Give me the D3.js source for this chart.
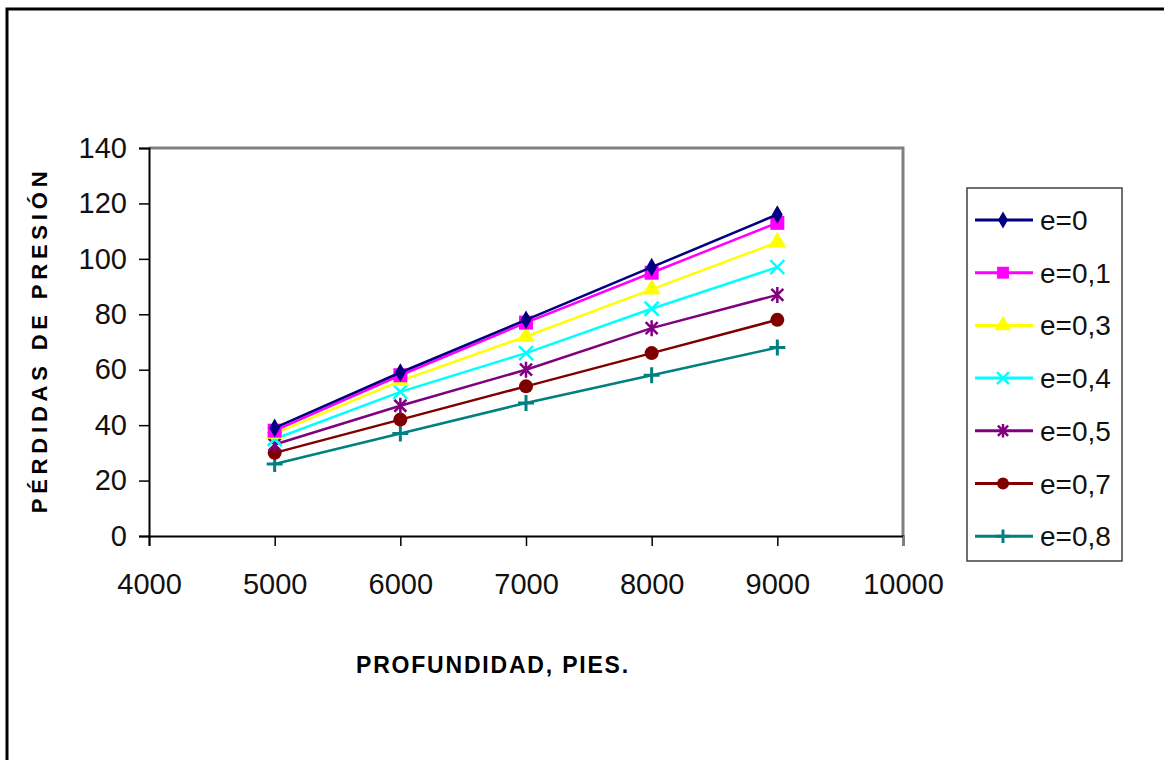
<!DOCTYPE html>
<html>
<head>
<meta charset="utf-8">
<script src="https://cdn.jsdelivr.net/npm/d3@7"></script>
<style>
  html, body { margin: 0; padding: 0; background: #fff; }
  svg { display: block; }
</style>
</head>
<body>
<svg id="chart" width="1164" height="760"></svg>
<script>
// Depth (ft) on the x axis
const depths = [5000, 6000, 7000, 8000, 9000];

// Pressure losses for each e value
const e0  = [39, 59, 78, 97, 116];
const e01 = [38, 58, 77, 95, 113];
const e03 = [37, 56, 72, 89, 106];
const e04 = [35, 52, 66, 82, 97];
const e05 = [33, 47, 60, 75, 87];
const e07 = [30, 42, 54, 66, 78];
const e08 = [26, 37, 48, 58, 68];

const seriesNames = ["e=0", "e=0,1", "e=0,3", "e=0,4", "e=0,5", "e=0,7", "e=0,8"];
const seriesValues = [e0, e01, e03, e04, e05, e07, e08];
const seriesColors = ["#000080", "#FF00FF", "#FFFF00", "#00FFFF", "#800080", "#800000", "#008080"];
const seriesMarkers = ["diamond", "square", "triangle", "x", "star", "circle", "plus"];

const xTicks = [4000, 5000, 6000, 7000, 8000, 9000, 10000];
const yTicks = [0, 20, 40, 60, 80, 100, 120, 140];

const svg = d3.select("#chart");
const font = "'Liberation Sans', Arial, sans-serif";

// Outer frame
svg.append("rect")
  .attr("x", 7).attr("y", 9)
  .attr("width", 1200).attr("height", 800)
  .attr("fill", "none").attr("stroke", "#000").attr("stroke-width", 3);

const plot = { left: 149, top: 148, right: 903, bottom: 536 };

const x = d3.scaleLinear().domain([4000, 10000]).range([plot.left, plot.right]);
const y = d3.scaleLinear().domain([0, 140]).range([plot.bottom, plot.top]);

// Grey top/right border of the plot area
svg.append("path")
  .attr("d", `M${plot.left},${plot.top} H${plot.right} V${plot.bottom}`)
  .attr("fill", "none").attr("stroke", "#808080").attr("stroke-width", 3);

// Axes
const yAxis = svg.append("g")
  .attr("transform", `translate(${plot.left},0)`)
  .call(d3.axisLeft(y).tickValues(yTicks).tickSize(10).tickPadding(12).tickFormat(d3.format("d")));
const xAxis = svg.append("g")
  .attr("transform", `translate(0,${plot.bottom})`)
  .call(d3.axisBottom(x).tickValues(xTicks).tickSize(10).tickPadding(27).tickFormat(d3.format("d")));

[yAxis, xAxis].forEach(a => {
  a.select(".domain").attr("stroke", "#000").attr("stroke-width", 2);
  a.selectAll(".tick line").attr("stroke", "#000").attr("stroke-width", 1.5);
  a.selectAll(".tick text")
    .attr("font-family", font).attr("font-size", 29).attr("fill", "#111");
});
xAxis.select(".tick:last-of-type line").attr("stroke", "#808080");

// Axis titles
svg.append("text")
  .attr("transform", `translate(47,340) rotate(-90)`)
  .attr("text-anchor", "middle")
  .attr("font-family", font).attr("font-weight", "bold").attr("font-size", 22)
  .attr("letter-spacing", 4.8)
  .text("PÉRDIDAS DE PRESIÓN");

svg.append("text")
  .attr("x", 493).attr("y", 673)
  .attr("text-anchor", "middle")
  .attr("font-family", font).attr("font-weight", "bold").attr("font-size", 23)
  .attr("letter-spacing", 1.8)
  .text("PROFUNDIDAD, PIES.");

// Marker drawing
function drawMarker(g, type, color, cx, cy, s) {
  const sc = s || 1;
  switch (type) {
    case "diamond":
      g.append("path").attr("d", d3.symbol(d3.symbolDiamond, 100 * sc)())
        .attr("transform", `translate(${cx},${cy})`).attr("fill", color);
      break;
    case "square":
      g.append("rect").attr("x", cx - 7 * sc).attr("y", cy - 7 * sc)
        .attr("width", 14 * sc).attr("height", 14 * sc).attr("fill", color);
      break;
    case "triangle":
      g.append("path").attr("d", d3.symbol(d3.symbolTriangle, 140 * sc)())
        .attr("transform", `translate(${cx},${cy})`).attr("fill", color);
      break;
    case "x": {
      const r = 7 * sc;
      g.append("path").attr("d", `M${cx - r},${cy - r}L${cx + r},${cy + r}M${cx - r},${cy + r}L${cx + r},${cy - r}`)
        .attr("stroke", color).attr("stroke-width", 2.5).attr("fill", "none");
      break;
    }
    case "star": {
      const r = 8 * sc;
      const d = r * 0.75;
      g.append("path").attr("d",
        `M${cx},${cy - r}V${cy + r}M${cx - d},${cy - d}L${cx + d},${cy + d}M${cx - d},${cy + d}L${cx + d},${cy - d}`)
        .attr("stroke", color).attr("stroke-width", 2.5).attr("fill", "none");
      break;
    }
    case "circle":
      g.append("circle").attr("cx", cx).attr("cy", cy).attr("r", 7 * sc).attr("fill", color);
      break;
    case "plus": {
      const r = 8 * sc;
      g.append("path").attr("d", `M${cx - r},${cy}H${cx + r}M${cx},${cy - r}V${cy + r}`)
        .attr("stroke", color).attr("stroke-width", 3).attr("fill", "none");
      break;
    }
  }
}

// Series lines and markers
const line = d3.line().x((d, i) => x(depths[i])).y(d => y(d));
const layer = svg.append("g");
for (let k = seriesValues.length - 1; k >= 0; k--) {
  const g = layer.append("g");
  g.append("path").datum(seriesValues[k]).attr("d", line)
    .attr("fill", "none").attr("stroke", seriesColors[k]).attr("stroke-width", 2.5);
  seriesValues[k].forEach((v, i) => drawMarker(g, seriesMarkers[k], seriesColors[k], x(depths[i]), y(v)));
}

// Legend
const legend = svg.append("g");
legend.append("rect")
  .attr("x", 967).attr("y", 188).attr("width", 155).attr("height", 373)
  .attr("fill", "#fff").attr("stroke", "#404040").attr("stroke-width", 1.5);
seriesNames.forEach((name, k) => {
  const cy = 220 + k * 52.7;
  legend.append("line").attr("x1", 975).attr("x2", 1033).attr("y1", cy).attr("y2", cy)
    .attr("stroke", seriesColors[k]).attr("stroke-width", 3);
  drawMarker(legend, seriesMarkers[k], seriesColors[k], 1003, cy, 0.85);
  legend.append("text").attr("x", 1040).attr("y", cy + 10)
    .attr("font-family", font).attr("font-size", 28).attr("fill", "#111")
    .text(name);
});
</script>
</body>
</html>
